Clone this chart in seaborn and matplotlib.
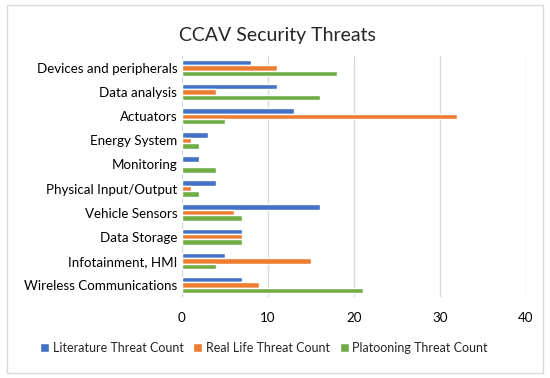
import seaborn as sns
import matplotlib.pyplot as plt
import pandas as pd
from matplotlib.patches import Rectangle

# Datos
categorias = ['Devices and peripherals', 'Data analysis', 'Actuators', 'Energy System',
              'Monitoring', 'Physical Input/Output', 'Vehicle Sensors', 'Data Storage',
              'Infotainment, HMI', 'Wireless Communications']
literatura = [8, 11, 13, 3, 2, 4, 16, 7, 5, 7]
vida_real = [11, 4, 32, 1, 0, 1, 6, 7, 15, 9]
platooning = [18, 16, 5, 2, 4, 2, 7, 7, 4, 21]

series = ['Literature Threat Count', 'Real Life Threat Count', 'Platooning Threat Count']
colores = ['#4472C4', '#ED7D31', '#70AD47']

df = pd.DataFrame({
    'categoria': categorias * 3,
    'valor': literatura + vida_real + platooning,
    'serie': [s for s in series for _ in categorias],
})

sns.set_style('white')
plt.rcParams['font.family'] = ['Lato', 'DejaVu Sans']

fig = plt.figure(figsize=(5.5, 3.78), dpi=100)
ax = fig.add_axes([182 / 550, 1 - 297 / 378, (526 - 182) / 550, (297 - 56) / 378])

sns.barplot(data=df, y='categoria', x='valor', hue='serie', palette=colores,
            orient='h', width=0.68, saturation=1, ax=ax, legend=True)

ax.set_xlim(0, 40)
ax.set_xticks([0, 10, 20, 30, 40])
ax.xaxis.grid(True, color='#d9d9d9', linewidth=1)
ax.set_axisbelow(True)
for s in ax.spines.values():
    s.set_visible(False)
ax.tick_params(axis='both', length=0, labelsize=9.6, colors='#000000')
ax.tick_params(axis='x', pad=11)
ax.set_xlabel('')
ax.set_ylabel('')

handles, labels = ax.get_legend_handles_labels()
ax.get_legend().remove()
fig.legend(handles, labels, loc='center', bbox_to_anchor=(264 / 550, 1 - 348 / 378),
           ncol=3, frameon=False, fontsize=9.0, handlelength=0.7, handleheight=0.7,
           handletextpad=0.3, columnspacing=0.8)

fig.text(277 / 550, 1 - 35 / 378, 'CCAV Security Threats', ha='center', va='center',
         fontsize=14)

fig.patches.append(Rectangle((0.012, 0.012), 0.976, 0.976, transform=fig.transFigure,
                             fill=False, edgecolor='#d9d9d9', linewidth=1))

fig.savefig('out.png', dpi=100)
